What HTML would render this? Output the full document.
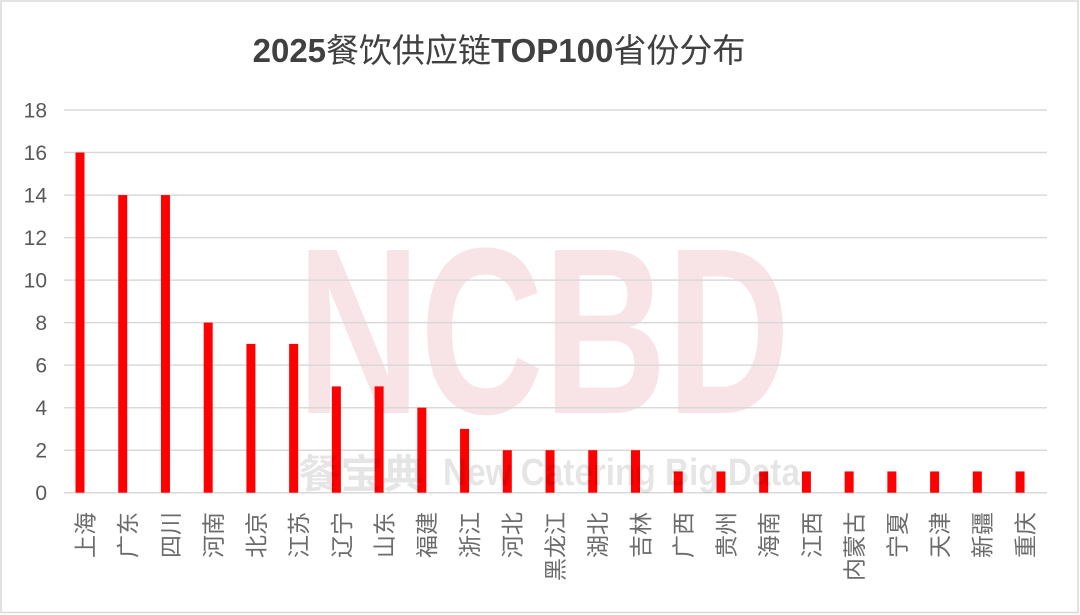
<!DOCTYPE html>
<html>
<head>
<meta charset="utf-8">
<style>
  html, body { margin: 0; padding: 0; background: #ffffff; }
  body { width: 1080px; height: 615px; overflow: hidden; }
  svg { display: block; }
</style>
</head>
<body>
<svg width="1080" height="615" viewBox="0 0 1080 615" xmlns="http://www.w3.org/2000/svg">
  <rect x="0" y="0" width="1080" height="615" fill="#ffffff"/>
  <rect x="1" y="1" width="1077" height="611.5" fill="none" stroke="#d9d9d9" stroke-width="1.5"/>

  <!-- Title -->
  <text x="499" y="62" text-anchor="middle" font-size="33" fill="#404040" font-family="'Liberation Sans','Noto Sans CJK SC',sans-serif"><tspan font-weight="bold">2025</tspan><tspan font-weight="normal">餐饮供应链</tspan><tspan font-weight="bold">TOP100</tspan><tspan font-weight="normal">省份分布</tspan></text>

  <!-- Watermark NCBD -->
  <text x="297" y="413" font-size="237" font-weight="bold" fill="#f8e3e6" textLength="493" lengthAdjust="spacingAndGlyphs" font-family="'Liberation Sans',sans-serif">NCBD</text>

  <!-- Gridlines -->
  <g stroke="#d9d9d9" stroke-width="1.5">
    <line x1="64" y1="110.0" x2="1047" y2="110.0"/>
    <line x1="64" y1="152.5" x2="1047" y2="152.5"/>
    <line x1="64" y1="195.1" x2="1047" y2="195.1"/>
    <line x1="64" y1="237.6" x2="1047" y2="237.6"/>
    <line x1="64" y1="280.1" x2="1047" y2="280.1"/>
    <line x1="64" y1="322.6" x2="1047" y2="322.6"/>
    <line x1="64" y1="365.1" x2="1047" y2="365.1"/>
    <line x1="64" y1="407.7" x2="1047" y2="407.7"/>
    <line x1="64" y1="450.2" x2="1047" y2="450.2"/>
    <line x1="64" y1="492.7" x2="1047" y2="492.7"/>
  </g>

  <!-- Y axis labels -->
  <g font-family="'Liberation Sans',sans-serif" font-size="21" fill="#595959" text-anchor="end">
    <text x="47" y="117.5">18</text>
    <text x="47" y="160.0">16</text>
    <text x="47" y="202.6">14</text>
    <text x="47" y="245.1">12</text>
    <text x="47" y="287.6">10</text>
    <text x="47" y="330.1">8</text>
    <text x="47" y="372.6">6</text>
    <text x="47" y="415.2">4</text>
    <text x="47" y="457.7">2</text>
    <text x="47" y="500.2">0</text>
  </g>

  <!-- Bars -->
  <g fill="#ff0000">
    <rect x="75.5" y="152.54" width="9" height="340.16"/>
    <rect x="118.23" y="195.06" width="9" height="297.64"/>
    <rect x="160.96" y="195.06" width="9" height="297.64"/>
    <rect x="203.69" y="322.62" width="9" height="170.08"/>
    <rect x="246.42" y="343.88" width="9" height="148.82"/>
    <rect x="289.15" y="343.88" width="9" height="148.82"/>
    <rect x="331.88" y="386.4" width="9" height="106.3"/>
    <rect x="374.61" y="386.4" width="9" height="106.3"/>
    <rect x="417.34" y="407.66" width="9" height="85.04"/>
    <rect x="460.07" y="428.92" width="9" height="63.78"/>
    <rect x="502.8" y="450.18" width="9" height="42.52"/>
    <rect x="545.53" y="450.18" width="9" height="42.52"/>
    <rect x="588.26" y="450.18" width="9" height="42.52"/>
    <rect x="630.99" y="450.18" width="9" height="42.52"/>
    <rect x="673.72" y="471.44" width="9" height="21.26"/>
    <rect x="716.45" y="471.44" width="9" height="21.26"/>
    <rect x="759.18" y="471.44" width="9" height="21.26"/>
    <rect x="801.91" y="471.44" width="9" height="21.26"/>
    <rect x="844.64" y="471.44" width="9" height="21.26"/>
    <rect x="887.37" y="471.44" width="9" height="21.26"/>
    <rect x="930.1" y="471.44" width="9" height="21.26"/>
    <rect x="972.83" y="471.44" width="9" height="21.26"/>
    <rect x="1015.56" y="471.44" width="9" height="21.26"/>
  </g>

  <!-- Bottom watermark text -->
  <g fill="#000000" fill-opacity="0.1" font-weight="bold">
    <text x="298" y="488" font-size="40" textLength="127" lengthAdjust="spacingAndGlyphs" font-family="'Liberation Sans','Noto Sans CJK SC',sans-serif">餐宝典</text>
    <text x="443" y="485" font-size="38" textLength="357" lengthAdjust="spacingAndGlyphs" font-family="'Liberation Sans',sans-serif">New Catering Big Data</text>
  </g>

  <!-- X axis labels (rotated) -->
  <g font-family="'Liberation Sans','Noto Sans CJK SC',sans-serif" font-size="23" fill="#6b6b6b" text-anchor="end">
    <text transform="translate(85.4,512) rotate(-90)" x="0" y="8">上海</text>
    <text transform="translate(128.13,512) rotate(-90)" x="0" y="8">广东</text>
    <text transform="translate(170.86,512) rotate(-90)" x="0" y="8">四川</text>
    <text transform="translate(213.59,512) rotate(-90)" x="0" y="8">河南</text>
    <text transform="translate(256.32,512) rotate(-90)" x="0" y="8">北京</text>
    <text transform="translate(299.05,512) rotate(-90)" x="0" y="8">江苏</text>
    <text transform="translate(341.78,512) rotate(-90)" x="0" y="8">辽宁</text>
    <text transform="translate(384.51,512) rotate(-90)" x="0" y="8">山东</text>
    <text transform="translate(427.24,512) rotate(-90)" x="0" y="8">福建</text>
    <text transform="translate(469.97,512) rotate(-90)" x="0" y="8">浙江</text>
    <text transform="translate(512.7,512) rotate(-90)" x="0" y="8">河北</text>
    <text transform="translate(555.43,512) rotate(-90)" x="0" y="8">黑龙江</text>
    <text transform="translate(598.16,512) rotate(-90)" x="0" y="8">湖北</text>
    <text transform="translate(640.89,512) rotate(-90)" x="0" y="8">吉林</text>
    <text transform="translate(683.62,512) rotate(-90)" x="0" y="8">广西</text>
    <text transform="translate(726.35,512) rotate(-90)" x="0" y="8">贵州</text>
    <text transform="translate(769.08,512) rotate(-90)" x="0" y="8">海南</text>
    <text transform="translate(811.81,512) rotate(-90)" x="0" y="8">江西</text>
    <text transform="translate(854.54,512) rotate(-90)" x="0" y="8">内蒙古</text>
    <text transform="translate(897.27,512) rotate(-90)" x="0" y="8">宁夏</text>
    <text transform="translate(940.0,512) rotate(-90)" x="0" y="8">天津</text>
    <text transform="translate(982.73,512) rotate(-90)" x="0" y="8">新疆</text>
    <text transform="translate(1025.46,512) rotate(-90)" x="0" y="8">重庆</text>
  </g>
</svg>
</body>
</html>
